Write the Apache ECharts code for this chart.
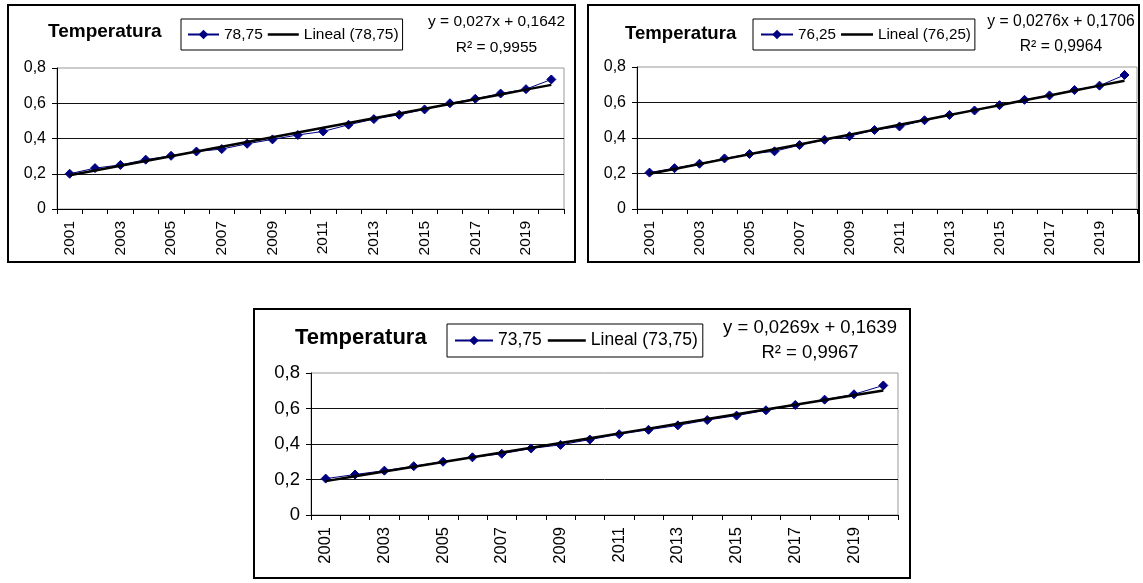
<!DOCTYPE html>
<html>
<head>
<meta charset="utf-8">
<script src="https://cdn.jsdelivr.net/npm/echarts@6/dist/echarts.min.js"></script>
<style>
  html, body { margin: 0; padding: 0; background: #fff; }
  #chart { width: 1143px; height: 583px; }
</style>
</head>
<body>
<div id="chart"></div>
<script>
// Years on the category axis
const years = ['2001','2002','2003','2004','2005','2006','2007','2008','2009','2010',
               '2011','2012','2013','2014','2015','2016','2017','2018','2019','2020'];

// Temperature series, one per percentile
const temp7875 = [0.200, 0.232, 0.250, 0.280, 0.302, 0.326, 0.340, 0.370, 0.395, 0.420,
                  0.440, 0.478, 0.510, 0.535, 0.565, 0.600, 0.625, 0.655, 0.680, 0.735];
const temp7625 = [0.205, 0.230, 0.255, 0.285, 0.310, 0.325, 0.360, 0.390, 0.410, 0.445,
                  0.465, 0.500, 0.530, 0.555, 0.585, 0.615, 0.640, 0.670, 0.695, 0.755];
const temp7375 = [0.205, 0.228, 0.250, 0.275, 0.300, 0.325, 0.345, 0.375, 0.395, 0.425,
                  0.455, 0.480, 0.505, 0.535, 0.560, 0.590, 0.620, 0.650, 0.680, 0.730];

// Linear fits (slope, intercept, R²) printed next to each chart
const fit7875 = { slope: 0.027,  intercept: 0.1642, r2: 0.9955 };
const fit7625 = { slope: 0.0276, intercept: 0.1706, r2: 0.9964 };
const fit7375 = { slope: 0.0269, intercept: 0.1639, r2: 0.9967 };

// Y-axis range
const yMin = 0, yMax = 0.8, yStep = 0.2;

const FONT = "'Liberation Sans', Arial, sans-serif";
const BLUE = '#000080';
const ICON_H = 12;

// Plain line swatch for the trend entry in the legend: a 2.5px bar centred in
// an itemWidth x ICON_H box (zero-area caps fix the path's bounding box).
function lineIcon(w) {
  const W = w * 10, H = ICON_H * 10, t = 25, y0 = (H - t) / 2;
  return 'path://M0,0L' + W + ',0L' + W + ',0Z' +
         ' M0,' + y0 + 'L' + W + ',' + y0 + 'L' + W + ',' + (y0 + t) + 'L0,' + (y0 + t) + 'Z' +
         ' M0,' + H + 'L' + W + ',' + H + 'L' + W + ',' + H + 'Z';
}

const comma = v => String(v).replace('.', ',');

// Panel layout
const panels = [
  { name: '78,75', data: temp7875, fit: fit7875,
    box: [8, 5, 567, 257],
    grid: { left: 57, top: 68, width: 507, height: 141 },
    title: { left: 48, top: 22, size: 19 },
    legend: { left: 181, top: 19, pad: [7.5, 4, 7.5, 6], iw: 31, gap: 5, size: 15.5 },
    eq: { x: 496.5, y1: 21.7, y2: 47.5, size: 15.5 },
    yFont: 16, xFont: 15.5 },
  { name: '76,25', data: temp7625, fit: fit7625,
    box: [588, 5, 551, 257],
    grid: { left: 637, top: 67, width: 500, height: 142 },
    title: { left: 625, top: 24.3, size: 18.6 },
    legend: { left: 753, top: 19, pad: [8, 4, 8, 7], iw: 32, gap: 5, size: 15.2 },
    eq: { x: 1061, y1: 21.7, y2: 47, size: 15.7 },
    yFont: 16, xFont: 15.5 },
  { name: '73,75', data: temp7375, fit: fit7375,
    box: [254, 309, 656, 269],
    grid: { left: 311, top: 373, width: 587, height: 142 },
    title: { left: 295, top: 326.5, size: 22 },
    legend: { left: 447, top: 324, pad: [7.5, 5, 7.5, 7], iw: 38, gap: 6, size: 17.5 },
    eq: { x: 810, y1: 328, y2: 353, size: 18.5 },
    yFont: 18.5, xFont: 16.5 }
];

const option = {
  animation: false,
  backgroundColor: '#fff',
  title: [], legend: [], grid: [], xAxis: [], yAxis: [], series: [], graphic: []
};

panels.forEach((p, i) => {
  const trendName = 'Lineal (' + p.name + ')';
  const trend = years.map((_, k) => +(p.fit.slope * (k + 1) + p.fit.intercept).toFixed(5));

  option.grid.push({
    left: p.grid.left, top: p.grid.top, width: p.grid.width, height: p.grid.height,
    show: true, borderColor: '#999', borderWidth: 1, backgroundColor: 'transparent',
    containLabel: false
  });

  option.title.push({
    text: 'Temperatura', left: p.title.left, top: p.title.top, padding: 0,
    textStyle: { fontFamily: FONT, fontWeight: 'bold', fontSize: p.title.size, color: '#000' }
  });

  option.legend.push({
    data: [p.name, { name: trendName, icon: lineIcon(p.legend.iw) }],
    left: p.legend.left, top: p.legend.top, orient: 'horizontal',
    padding: p.legend.pad, itemGap: p.legend.gap,
    itemWidth: p.legend.iw, itemHeight: ICON_H,
    borderColor: '#000', borderWidth: 1, backgroundColor: '#fff',
    selectedMode: false,
    textStyle: { fontFamily: FONT, fontSize: p.legend.size, color: '#000' }
  });

  option.xAxis.push({
    type: 'category', gridIndex: i, data: years, boundaryGap: true,
    axisLine: { show: true, lineStyle: { color: '#000', width: 1 } },
    axisTick: { show: true, interval: 0, alignWithLabel: false, length: 5,
                lineStyle: { color: '#000', width: 1 } },
    axisLabel: { interval: 1, rotate: 90, margin: 12, color: '#000',
                 fontFamily: FONT, fontSize: p.xFont },
    splitLine: { show: false }
  });

  option.yAxis.push({
    type: 'value', gridIndex: i, min: yMin, max: yMax, interval: yStep,
    axisLine: { show: true, lineStyle: { color: '#000', width: 1 } },
    axisTick: { show: true, length: 5, lineStyle: { color: '#000', width: 1 } },
    axisLabel: { margin: 11, color: '#000', fontFamily: FONT, fontSize: p.yFont,
                 formatter: v => comma(+v.toFixed(1)) },
    splitLine: { show: true, showMaxLine: false, lineStyle: { color: '#111', width: 1 } }
  });

  option.series.push({
    name: p.name, type: 'line', xAxisIndex: i, yAxisIndex: i, data: p.data,
    symbol: 'diamond', symbolSize: 9, showSymbol: true,
    lineStyle: { color: BLUE, width: 1 },
    itemStyle: { color: BLUE, borderColor: BLUE },
    z: 2
  });

  option.series.push({
    name: trendName, type: 'line', xAxisIndex: i, yAxisIndex: i, data: trend,
    symbol: 'none', showSymbol: false,
    lineStyle: { color: '#000', width: 2.5 },
    itemStyle: { color: '#000' },
    z: 3
  });

  // Chart frame
  option.graphic.push({
    type: 'rect', silent: true, z: 0,
    shape: { x: p.box[0], y: p.box[1], width: p.box[2], height: p.box[3] },
    style: { fill: null, stroke: '#000', lineWidth: 2 }
  });

  // Fit equation and R²
  const eqFont = p.eq.size + 'px ' + FONT;
  option.graphic.push({
    type: 'text', silent: true, z: 10, x: p.eq.x, y: p.eq.y1,
    style: { text: 'y = ' + comma(p.fit.slope) + 'x + ' + comma(p.fit.intercept),
             font: eqFont, fill: '#000', textAlign: 'center', textVerticalAlign: 'middle',
             align: 'center', verticalAlign: 'middle' }
  });
  option.graphic.push({
    type: 'text', silent: true, z: 10, x: p.eq.x, y: p.eq.y2,
    style: { text: 'R² = ' + comma(p.fit.r2),
             font: eqFont, fill: '#000', textAlign: 'center', textVerticalAlign: 'middle',
             align: 'center', verticalAlign: 'middle' }
  });
});

const chart = echarts.init(document.getElementById('chart'), null, { renderer: 'canvas' });
chart.setOption(option);
</script>
</body>
</html>
